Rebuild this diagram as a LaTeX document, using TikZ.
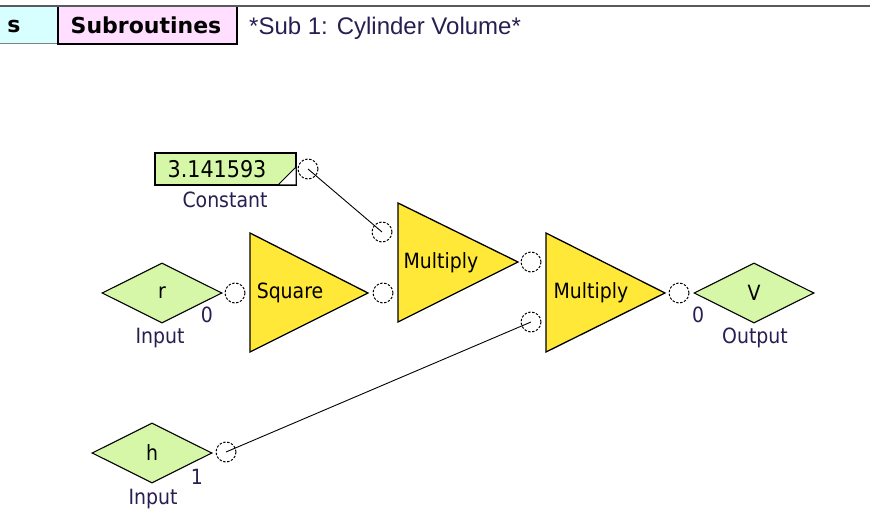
\documentclass[tikz,border=0pt]{standalone}
\usepackage{fontspec}
\setmainfont{DejaVu Sans Condensed}
\newfontfamily\headfont{Liberation Sans}
\newfontfamily\tabfont{DejaVu Sans}
\usetikzlibrary{shapes.geometric}

\definecolor{blockgreen}{RGB}{214,247,168}
\definecolor{gateyellow}{RGB}{255,232,56}
\definecolor{tabpink}{RGB}{255,222,255}
\definecolor{tabcyan}{RGB}{216,255,255}
\definecolor{labelink}{RGB}{40,30,80}
\definecolor{rulegray}{RGB}{90,90,90}

\begin{document}
\begin{tikzpicture}[x=1pt,y=-1pt,
  port/.style={circle,draw,dash pattern=on 2.4pt off 1.6pt,line width=1pt,minimum size=20pt,inner sep=0pt},
  wire/.style={line width=0.9pt},
  io/.style={diamond,draw,fill=blockgreen,line width=1.1pt,minimum width=120pt,minimum height=60pt,inner sep=0pt},
  gate/.style={draw,fill=gateyellow,line width=1.3pt,line join=miter},
  txt/.style={font=\fontsize{21}{24}\selectfont,inner sep=0pt},
  lbl/.style={txt,text=labelink}]
\useasboundingbox (0,0) rectangle (870,510);

\path[fill=tabcyan] (0,6) rectangle (58,44);
\draw[gray,line width=1pt] (0,44) -- (58,44);
\draw[fill=tabpink,line width=1.5pt] (58,6) rectangle (237,44);
\draw[rulegray,line width=2pt] (0,6) -- (870,6);
\node[font=\tabfont\bfseries\fontsize{22}{24}\selectfont,inner sep=0pt] (tabs) at (14,26) {s};
\node[font=\tabfont\bfseries\fontsize{22}{24}\selectfont,inner sep=0pt] (tabsub) at (146,25) {Subroutines};
\node[font=\headfont\fontsize{24}{26}\selectfont,text=labelink,anchor=west,inner sep=0pt] (title) at (249,28) {*Sub 1: Cylinder Volume*};

\draw[fill=blockgreen,line width=1.5pt] (155,153) rectangle (296,185);
\draw[fill=white,line width=1pt] (278,185) -- (296,167) -- (296,185) -- cycle;
\node[txt,font=\fontsize{23}{26}\selectfont] (const) at (217,169) {3.141593};
\node[lbl] (constlbl) at (225,200) {Constant};

\node[io] (r) at (162,293) {};
\node[txt] at (r) {r};
\node[lbl] (rnum) at (207,315) {0};
\node[lbl] (rlbl) at (160,338) {Input};

\node[io] (h) at (152,453) {};
\node[txt] at (h) {h};
\node[lbl] (hnum) at (197,477) {1};
\node[lbl] (hlbl) at (153,499) {Input};

\node[io] (v) at (754,293) {};
\node[txt] at (v) {V};
\node[lbl] (vnum) at (698,315) {0};
\node[lbl] (vlbl) at (755,338) {Output};

\draw[gate] (250,233) -- (368,293) -- (250,352) -- cycle;
\node[txt] (square) at (290,293) {Square};
\draw[gate] (398,203) -- (518,262) -- (398,322) -- cycle;
\node[txt] (mulA) at (441,263) {Multiply};
\draw[gate] (546,233) -- (665,293) -- (546,352) -- cycle;
\node[txt] (mulB) at (591,293) {Multiply};

\node[port] (pconst) at (308,169) {};
\node[port] (pr) at (235,293) {};
\node[port] (psq) at (383,293) {};
\node[port] (pmulAin) at (382,232) {};
\node[port] (pmulA) at (531,262) {};
\node[port] (pmulBin) at (531,322) {};
\node[port] (pmulB) at (679,293) {};
\node[port] (ph) at (226,452) {};

\draw[wire] (pconst.center) -- (pmulAin.center);
\draw[wire] (ph.center) -- (pmulBin.center);
\end{tikzpicture}
\end{document}
